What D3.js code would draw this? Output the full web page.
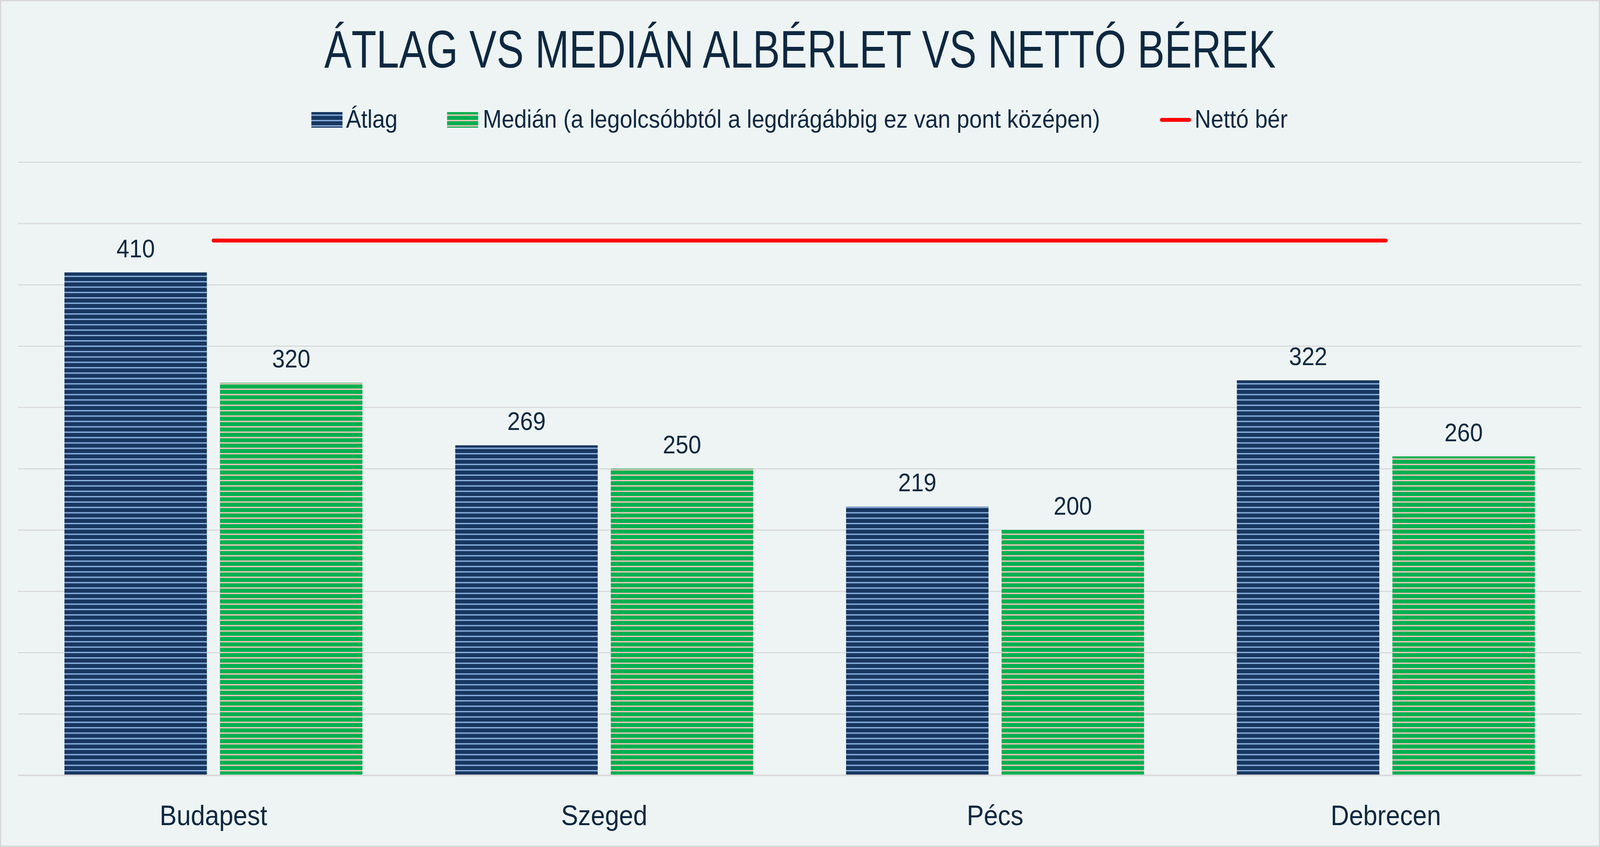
<!DOCTYPE html>
<html><head><meta charset="utf-8">
<script src="https://cdn.jsdelivr.net/npm/d3@7"></script>
<style>
html,body{margin:0;padding:0;background:#EEF4F4;overflow:hidden;width:100vw;height:100vh;}
svg{display:block;width:100vw;height:100vh;}
</style></head>
<body>
<script>
// ---- data ----
const categories = ["Budapest", "Szeged", "Pécs", "Debrecen"];
const atlag = [410, 269, 219, 322];
const median = [320, 250, 200, 260];
const netto = [436, 436, 436, 436];
const seriesNames = ["Átlag", "Medián (a legolcsóbbtól a legdrágábbig ez van pont középen)", "Nettó bér"];
const yTicks = [0, 50, 100, 150, 200, 250, 300, 350, 400, 450, 500];
const titleText = "ÁTLAG VS MEDIÁN ALBÉRLET VS NETTÓ BÉREK";

// ---- layout ----
const W = 4527, H = 2169;
const plot = {left: 51, right: 4474, top: 415, bottom: 1985};
const textColor = "#0E2841";
const font = "'Liberation Sans', Arial, sans-serif";

const svg = d3.select("body").append("svg")
  .attr("viewBox", `0 0 ${W} ${H}`)
  .attr("preserveAspectRatio", "none");

const defs = svg.append("defs");
function stripe(id, base, line) {
  const p = defs.append("pattern").attr("id", id)
    .attr("patternUnits", "userSpaceOnUse")
    .attr("x", 0).attr("y", 4.3).attr("width", 20).attr("height", 13.76);
  p.append("rect").attr("width", 20).attr("height", 13.76).attr("fill", base);
  p.append("rect").attr("y", 0).attr("width", 20).attr("height", 3.3).attr("fill", line);
}
stripe("pAtlag", "#183760", "#8DB3E2");
stripe("pMedian", "#00B050", "#FFC5C0");

// background + frame
svg.append("rect").attr("x", 1.5).attr("y", 1.5).attr("width", W - 3).attr("height", H - 3)
  .attr("fill", "#EEF4F4").attr("stroke", "#D9D9D9").attr("stroke-width", 4);

// scales
const x0 = d3.scaleBand().domain(categories).range([plot.left, plot.right]).paddingInner(0).paddingOuter(0);
const y = d3.scaleLinear().domain([0, 500]).range([plot.bottom, plot.top]);
const barW = x0.bandwidth() * 0.3645;
const barGap = 37;
const x1 = d3.scaleOrdinal().domain(["a", "m"]).range([-(barW + barGap / 2), barGap / 2]);

// gridlines
const yAxis = d3.axisLeft(y).tickValues(yTicks).tickSize(-(plot.right - plot.left)).tickFormat("");
const gGrid = svg.append("g").attr("transform", `translate(${plot.left},0)`).call(yAxis);
gGrid.select(".domain").remove();
gGrid.selectAll(".tick line").attr("stroke", "#D9D9D9").attr("stroke-width", 3);

// bars
const groups = svg.append("g").selectAll("g").data(categories).join("g")
  .attr("transform", d => `translate(${x0(d) + x0.bandwidth() / 2},0)`);

groups.append("rect")
  .attr("x", x1("a")).attr("width", barW)
  .attr("y", (d, i) => y(atlag[i])).attr("height", (d, i) => y(0) - y(atlag[i]))
  .attr("fill", "url(#pAtlag)");
groups.append("rect")
  .attr("x", x1("m")).attr("width", barW)
  .attr("y", (d, i) => y(median[i])).attr("height", (d, i) => y(0) - y(median[i]))
  .attr("fill", "url(#pMedian)");

// data labels
groups.append("text").attr("x", x1("a") + barW / 2).attr("y", (d, i) => y(atlag[i]) - 39)
  .attr("text-anchor", "middle").attr("font-family", font).attr("font-size", 65)
  .attr("fill", textColor).text((d, i) => atlag[i]);
groups.append("text").attr("x", x1("m") + barW / 2).attr("y", (d, i) => y(median[i]) - 39)
  .attr("text-anchor", "middle").attr("font-family", font).attr("font-size", 65)
  .attr("fill", textColor).text((d, i) => median[i]);

// baseline axis
const xAxis = d3.axisBottom(x0).tickSize(0).tickPadding(0);
const gx = svg.append("g").attr("transform", `translate(0,${y(0)})`).call(xAxis);
gx.select(".domain").attr("stroke", "#D9D9D9").attr("stroke-width", 4);
gx.selectAll(".tick text").attr("font-family", font).attr("font-size", 72)
  .attr("fill", textColor).attr("dy", null).attr("y", 128);

// net wage line
const line = d3.line().x((d, i) => x0(categories[i]) + x0.bandwidth() / 2).y(d => y(d));
svg.append("path").datum(netto).attr("d", line)
  .attr("fill", "none").attr("stroke", "#FF0000").attr("stroke-width", 10)
  .attr("stroke-linecap", "round").attr("stroke-linejoin", "round");

// title
svg.append("text").attr("x", W / 2).attr("y", 173).attr("text-anchor", "middle")
  .attr("font-family", "'Liberation Sans Narrow', 'Arial Narrow', 'Liberation Sans', Arial, sans-serif")
  .attr("font-size", 136).attr("fill", textColor)
  .attr("textLength", 2692).attr("lengthAdjust", "spacingAndGlyphs")
  .text(titleText);

// legend
const lg = svg.append("g").attr("font-family", font).attr("font-size", 64).attr("fill", textColor);
const legendPos = [{sx: 881, tx: 979}, {sx: 1265, tx: 1366}, {sx: 3282, tx: 3380}];
lg.append("rect").attr("x", legendPos[0].sx).attr("y", 287).attr("width", 88).attr("height", 40).attr("fill", "url(#pAtlag)");
lg.append("rect").attr("x", legendPos[1].sx).attr("y", 287).attr("width", 88).attr("height", 40).attr("fill", "url(#pMedian)");
lg.append("line").attr("x1", legendPos[2].sx + 5).attr("x2", legendPos[2].sx + 83).attr("y1", 307).attr("y2", 307)
  .attr("stroke", "#FF0000").attr("stroke-width", 10).attr("stroke-linecap", "round");
seriesNames.forEach((n, i) => {
  lg.append("text").attr("x", legendPos[i].tx).attr("y", 327).text(n);
});
</script>
</body></html>
